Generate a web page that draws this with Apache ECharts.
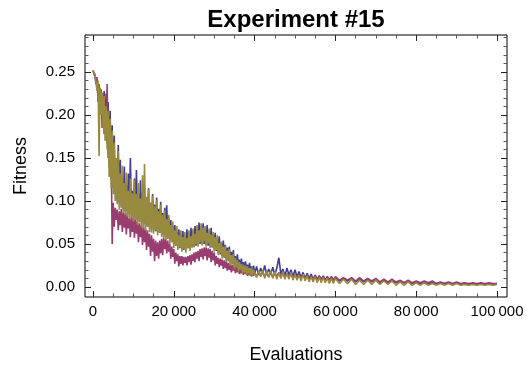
<!DOCTYPE html>
<html><head><meta charset="utf-8">
<script src="https://cdn.jsdelivr.net/npm/echarts@6/dist/echarts.min.js"></script>
<style>html,body{margin:0;padding:0;background:#fff}#c{width:527px;height:372px}</style>
</head><body><div id="c"></div>
<script>
var titleText = 'Experiment #15';
var xName = 'Evaluations';
var yName = 'Fitness';
var seriesNames = ['Run 1', 'Run 2', 'Run 3'];
var seriesColors = ['#3f3d99', '#993d71', '#998b3d'];

var evals = [
0,250,500,750,1000,1250,1500,1750,2000,2250,
2500,2750,3000,3250,3500,3750,4000,4250,4500,4750,
5000,5250,5500,5750,6000,6250,6500,6750,7000,7250,
7500,7750,8000,8250,8500,8750,9000,9250,9500,9750,
10000,10250,10500,10750,11000,11250,11500,11750,12000,12250,
12500,12750,13000,13250,13500,13750,14000,14250,14500,14750,
15000,15250,15500,15750,16000,16250,16500,16750,17000,17250,
17500,17750,18000,18250,18500,18750,19000,19250,19500,19750,
20000,20250,20500,20750,21000,21250,21500,21750,22000,22250,
22500,22750,23000,23250,23500,23750,24000,24250,24500,24750,
25000,25250,25500,25750,26000,26250,26500,26750,27000,27250,
27500,27750,28000,28250,28500,28750,29000,29250,29500,29750,
30000,30250,30500,30750,31000,31250,31500,31750,32000,32250,
32500,32750,33000,33250,33500,33750,34000,34250,34500,34750,
35000,35250,35500,35750,36000,36250,36500,36750,37000,37250,
37500,37750,38000,38250,38500,38750,39000,39250,39500,39750,
40000,40500,41000,41500,42000,42500,43000,43500,44000,44500,
45000,45500,46000,46500,47000,47500,48000,48500,49000,49500,
50000,50500,51000,51500,52000,52500,53000,53500,54000,54500,
55000,55500,56000,56500,57000,57500,58000,58500,59000,59500,
60000,61000,62000,63000,64000,65000,66000,67000,68000,69000,
70000,71000,72000,73000,74000,75000,76000,77000,78000,79000,
80000,81000,82000,83000,84000,85000,86000,87000,88000,89000,
90000,91000,92000,93000,94000,95000,96000,97000,98000,99000,
100000];

var fitnessBlue = [
0.251,0.248,0.244,0.236,0.240,0.220,0.234,0.205,0.230,0.212,
0.192,0.228,0.180,0.225,0.168,0.215,0.140,0.205,0.125,0.188,
0.115,0.176,0.108,0.122,0.100,0.165,0.098,0.148,0.094,0.128,
0.090,0.140,0.088,0.118,0.087,0.132,0.085,0.150,0.084,0.112,
0.082,0.126,0.080,0.136,0.078,0.108,0.076,0.124,0.075,0.110,
0.073,0.118,0.072,0.104,0.070,0.115,0.069,0.098,0.068,0.108,
0.066,0.096,0.065,0.104,0.064,0.091,0.063,0.099,0.062,0.086,
0.060,0.092,0.058,0.095,0.057,0.081,0.055,0.078,0.052,0.071,
0.050,0.072,0.048,0.064,0.046,0.067,0.045,0.061,0.044,0.065,
0.043,0.060,0.044,0.067,0.045,0.062,0.045,0.069,0.046,0.064,
0.047,0.071,0.048,0.066,0.050,0.075,0.050,0.069,0.051,0.074,
0.050,0.068,0.049,0.072,0.048,0.065,0.047,0.069,0.046,0.062,
0.044,0.063,0.042,0.057,0.040,0.059,0.038,0.052,0.036,0.054,
0.034,0.049,0.032,0.046,0.030,0.047,0.028,0.041,0.027,0.043,
0.025,0.036,0.024,0.038,0.022,0.032,0.021,0.033,0.019,0.029,
0.018,0.030,0.017,0.026,0.017,0.028,0.016,0.024,0.016,0.025,
0.015,0.024,0.014,0.022,0.015,0.025,0.014,0.021,0.015,0.023,
0.014,0.022,0.034,0.015,0.021,0.013,0.022,0.014,0.020,0.012,
0.020,0.012,0.018,0.011,0.017,0.010,0.016,0.010,0.015,0.009,
0.014,0.009,0.013,0.009,0.013,0.008,0.012,0.008,0.012,0.008,
0.011,0.007,0.010,0.007,0.010,0.006,0.009,0.006,0.009,0.006,
0.008,0.005,0.008,0.005,0.007,0.005,0.007,0.005,0.006,0.004,
0.006,0.004,0.006,0.004,0.005,0.004,0.005,0.004,0.005,0.003,
0.005,0.003,0.004,0.003,0.004,0.003,0.004,0.003,0.004,0.003,
0.004];

var fitnessMagenta = [
0.252,0.250,0.247,0.240,0.244,0.215,0.236,0.200,0.228,0.185,
0.225,0.178,0.210,0.170,0.236,0.150,0.195,0.140,0.160,0.050,
0.098,0.070,0.092,0.078,0.090,0.066,0.088,0.072,0.091,0.064,
0.087,0.069,0.086,0.061,0.085,0.068,0.080,0.058,0.083,0.064,
0.082,0.057,0.080,0.062,0.076,0.052,0.074,0.058,0.072,0.049,
0.070,0.052,0.068,0.043,0.066,0.047,0.062,0.036,0.060,0.041,
0.056,0.030,0.054,0.036,0.052,0.033,0.054,0.039,0.056,0.037,
0.057,0.044,0.056,0.039,0.054,0.041,0.050,0.033,0.047,0.035,
0.044,0.027,0.040,0.030,0.038,0.024,0.036,0.027,0.036,0.025,
0.035,0.028,0.035,0.025,0.036,0.029,0.037,0.026,0.038,0.030,
0.040,0.029,0.041,0.033,0.042,0.030,0.044,0.035,0.045,0.032,
0.046,0.036,0.046,0.031,0.045,0.034,0.044,0.029,0.042,0.031,
0.040,0.025,0.036,0.027,0.034,0.023,0.033,0.025,0.032,0.021,
0.031,0.022,0.030,0.019,0.028,0.020,0.027,0.017,0.026,0.019,
0.025,0.016,0.024,0.017,0.023,0.015,0.022,0.016,0.021,0.014,
0.021,0.015,0.020,0.013,0.020,0.014,0.019,0.012,0.019,0.013,
0.018,0.012,0.018,0.013,0.018,0.012,0.017,0.012,0.017,0.011,
0.017,0.012,0.017,0.011,0.016,0.011,0.016,0.011,0.016,0.010,
0.015,0.010,0.015,0.010,0.014,0.010,0.014,0.009,0.013,0.009,
0.013,0.009,0.013,0.009,0.012,0.008,0.012,0.008,0.012,0.008,
0.012,0.008,0.011,0.008,0.011,0.007,0.011,0.007,0.010,0.007,
0.010,0.006,0.009,0.006,0.009,0.006,0.008,0.005,0.008,0.005,
0.007,0.005,0.007,0.005,0.007,0.004,0.006,0.004,0.006,0.004,
0.006,0.004,0.005,0.004,0.005,0.004,0.005,0.004,0.005,0.004,
0.004];

var fitnessOlive = [
0.252,0.250,0.246,0.238,0.228,0.240,0.152,0.232,0.200,0.226,
0.185,0.222,0.170,0.210,0.160,0.205,0.128,0.196,0.115,0.182,
0.108,0.168,0.100,0.150,0.096,0.158,0.090,0.132,0.092,0.141,
0.086,0.121,0.084,0.133,0.082,0.112,0.079,0.126,0.080,0.109,
0.076,0.124,0.078,0.108,0.072,0.121,0.075,0.103,0.069,0.130,
0.068,0.143,0.066,0.105,0.070,0.114,0.064,0.098,0.063,0.106,
0.062,0.094,0.066,0.101,0.060,0.088,0.063,0.096,0.058,0.084,
0.057,0.089,0.055,0.079,0.056,0.084,0.050,0.072,0.052,0.076,
0.045,0.066,0.048,0.071,0.043,0.060,0.046,0.066,0.041,0.058,
0.044,0.064,0.040,0.057,0.045,0.066,0.042,0.059,0.046,0.068,
0.046,0.062,0.050,0.072,0.047,0.066,0.052,0.074,0.048,0.069,
0.053,0.071,0.047,0.063,0.051,0.068,0.045,0.061,0.047,0.064,
0.041,0.058,0.043,0.060,0.037,0.051,0.039,0.053,0.033,0.047,
0.035,0.048,0.029,0.042,0.031,0.044,0.025,0.037,0.027,0.039,
0.021,0.034,0.023,0.031,0.018,0.029,0.020,0.027,0.016,0.026,
0.017,0.025,0.014,0.024,0.016,0.022,0.013,0.023,0.014,0.020,
0.021,0.011,0.019,0.012,0.020,0.010,0.018,0.011,0.019,0.010,
0.018,0.009,0.017,0.010,0.018,0.009,0.016,0.009,0.017,0.008,
0.015,0.008,0.014,0.007,0.015,0.007,0.013,0.006,0.012,0.006,
0.012,0.005,0.011,0.005,0.011,0.005,0.010,0.004,0.010,0.004,
0.010,0.004,0.009,0.004,0.009,0.003,0.008,0.003,0.008,0.003,
0.008,0.003,0.007,0.003,0.007,0.002,0.006,0.002,0.006,0.002,
0.005,0.002,0.005,0.002,0.004,0.002,0.004,0.002,0.004,0.002,
0.004,0.002,0.003,0.002,0.003,0.002,0.003,0.002,0.003,0.002,
0.003];

var xTicks = [0, 20000, 40000, 60000, 80000, 100000];
var xMinorTicks = [5000, 10000, 15000, 25000, 30000, 35000, 45000, 50000, 55000, 65000, 70000, 75000, 85000, 90000, 95000];
var yTicks = [0, 0.05, 0.10, 0.15, 0.20, 0.25];
var yMinorTicks = [0.01, 0.02, 0.03, 0.04, 0.06, 0.07, 0.08, 0.09, 0.11, 0.12, 0.13, 0.14, 0.16, 0.17, 0.18, 0.19, 0.21, 0.22, 0.23, 0.24, 0.26, 0.27, 0.28, 0.29];
var xRange = [-1980, 102475];
var yRange = [-0.0116, 0.293];

var FONT = '"Liberation Sans", Arial, sans-serif';
var allSeries = [fitnessBlue, fitnessMagenta, fitnessOlive];

function fmtX(v) {
  var s = String(Math.round(v));
  if (s.length > 3) s = s.slice(0, s.length - 3) + '\u2009' + s.slice(s.length - 3);
  return s;
}
function fmtY(v) { return Number(v).toFixed(2); }

function tickCfg(vals, len, color) {
  return {show: true, inside: true, length: len, customValues: vals, lineStyle: {color: color, width: 1}};
}
function xAx(grid, pos, vals, len, color, withLabels) {
  var a = {type: 'value', gridIndex: grid, position: pos, min: xRange[0], max: xRange[1],
    axisLine: {show: false, onZero: false}, splitLine: {show: false}, minorTick: {show: false},
    axisTick: tickCfg(vals, len, color),
    axisLabel: {show: false}};
  if (withLabels) {
    a.axisLabel = {show: true, customValues: vals, formatter: fmtX, margin: 7, fontFamily: FONT, fontSize: 15, color: '#000'};
    a.name = xName; a.nameLocation = 'middle'; a.nameGap = 49;
    a.nameTextStyle = {fontFamily: FONT, fontSize: 18, color: '#000'};
  }
  return a;
}
function yAx(grid, pos, vals, len, color, withLabels) {
  var a = {type: 'value', gridIndex: grid, position: pos, min: yRange[0], max: yRange[1],
    axisLine: {show: false, onZero: false}, splitLine: {show: false}, minorTick: {show: false},
    axisTick: tickCfg(vals, len, color),
    axisLabel: {show: false}};
  if (withLabels) {
    a.axisLabel = {show: true, customValues: vals, formatter: fmtY, margin: 10, fontFamily: FONT, fontSize: 15, color: '#000'};
    a.name = yName; a.nameLocation = 'middle'; a.nameGap = 55; a.nameRotate = 90;
    a.nameTextStyle = {fontFamily: FONT, fontSize: 18, color: '#000'};
  }
  return a;
}

var chart = echarts.init(document.getElementById('c'), null, {renderer: 'canvas'});
chart.setOption({
  animation: false,
  backgroundColor: '#fff',
  title: {
    text: titleText, left: 291, top: 3, textAlign: 'center',
    textStyle: {fontFamily: FONT, fontWeight: 'bold', fontSize: 24, color: '#000'}
  },
  grid: [
    {left: 85, top: 35, width: 422, height: 262, show: true, borderColor: '#000', borderWidth: 1, backgroundColor: 'transparent'},
    {left: 85, top: 35, width: 422, height: 262, show: false}
  ],
  xAxis: [
    xAx(0, 'bottom', xTicks, 6, '#222', true),
    xAx(0, 'top', xTicks, 6, '#222', false),
    xAx(1, 'bottom', xMinorTicks, 3.5, '#555', false),
    xAx(1, 'top', xMinorTicks, 3.5, '#555', false)
  ],
  yAxis: [
    yAx(0, 'left', yTicks, 6, '#222', true),
    yAx(0, 'right', yTicks, 6, '#222', false),
    yAx(1, 'left', yMinorTicks, 3.5, '#555', false),
    yAx(1, 'right', yMinorTicks, 3.5, '#555', false)
  ],
  series: allSeries.map(function (arr, k) {
    return {
      name: seriesNames[k], type: 'line', xAxisIndex: 0, yAxisIndex: 0,
      showSymbol: false, symbol: 'none', sampling: null,
      lineStyle: {color: seriesColors[k], width: 1.6},
      itemStyle: {color: seriesColors[k]},
      data: evals.map(function (x, i) { return [x, arr[i]]; })
    };
  })
});
</script></body></html>
